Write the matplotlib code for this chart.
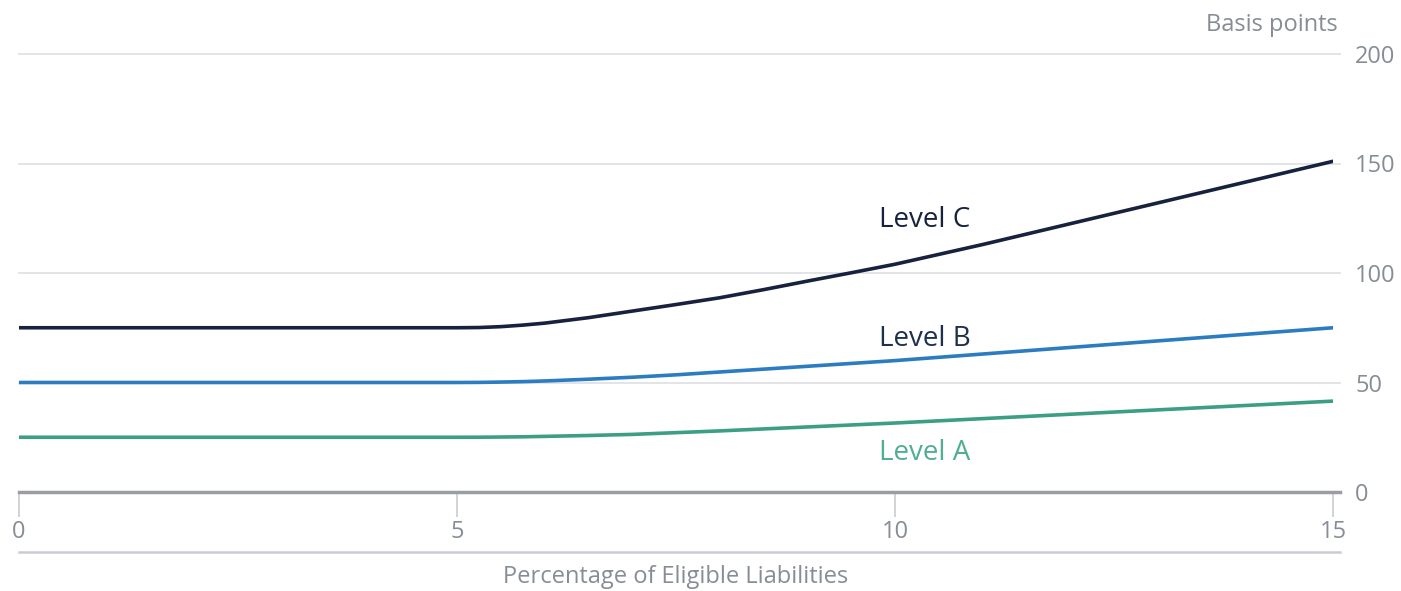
import matplotlib
matplotlib.use("Agg")
import matplotlib.pyplot as plt

plt.rcParams['font.family'] = ['Open Sans', 'DejaVu Sans']

# valores (pontos-base vs % de passivos elegiveis)
x_vals = [0, 5, 5.25, 5.5, 5.75, 6, 6.5, 7, 7.5, 8, 8.5, 9, 9.5, 10, 11, 12, 13, 14, 15]
level_c = [75, 75, 75.1, 75.5, 76.2, 77.1, 79.6, 82.6, 85.6, 88.7, 92.4, 96.3, 100.1, 104, 113, 122.5, 132, 141.5, 151]
level_b = [50, 50, 50.05, 50.2, 50.4, 50.7, 51.5, 52.4, 53.5, 54.8, 56.1, 57.4, 58.7, 60, 63, 66, 69, 72, 75]
level_a = [25, 25, 25.02, 25.1, 25.2, 25.4, 25.8, 26.3, 27.1, 27.9, 28.8, 29.7, 30.6, 31.5, 33.5, 35.5, 37.5, 39.5, 41.5]

x_ticks = [0, 5, 10, 15]
y_ticks = [0, 50, 100, 150, 200]

grey_txt = "#868d96"
col_c = "#17223f"
col_b = "#2b7cc0"
col_a = "#3d9e86"

fig = plt.figure(figsize=(14.01, 5.91), dpi=100)
ax = fig.add_axes([19/1401, 1-492/591, (1333-19)/1401, (492-54)/591])

for y in y_ticks[1:]:
	ax.axhline(y, xmin=0, xmax=1.005, color="#dfe2e5", linewidth=1.3, clip_on=False, zorder=1)
ax.axhline(0, xmin=0, xmax=1.005, color="#9a9da1", linewidth=2.5, clip_on=False, zorder=2)

ax.plot(x_vals, level_c, color=col_c, linewidth=2.6, zorder=3)
ax.plot(x_vals, level_b, color=col_b, linewidth=2.6, zorder=3)
ax.plot(x_vals, level_a, color=col_a, linewidth=2.6, zorder=3)

ax.text(9.82, 124, "Level C", color=col_c, fontsize=20, va="center", ha="left")
ax.text(9.82, 70, "Level B", color="#1e3050", fontsize=20, va="center", ha="left")
ax.text(9.82, 18, "Level A", color="#4fae94", fontsize=20, va="center", ha="left")

ax.set_xlim(0, 15)
ax.set_ylim(0, 200)
for s in ax.spines.values():
	s.set_visible(False)

ax.set_xticks(x_ticks)
ax.set_xticklabels([str(t) for t in x_ticks])
ax.tick_params(axis="x", length=18, width=1.2, color="#c9ccd0", labelcolor=grey_txt, labelsize=17, pad=2)
ax.yaxis.tick_right()
ax.set_yticks(y_ticks)
ax.set_yticklabels([str(t) for t in y_ticks])
ax.tick_params(axis="y", length=0, labelcolor=grey_txt, labelsize=17, pad=16)

# linha inferior sob os rotulos do eixo x
ax.plot([0, 1.005], [-0.137, -0.137], transform=ax.transAxes, color="#c9ccd0", linewidth=1.8, clip_on=False)

fig.text(676/1401, 1-577/591, "Percentage of Eligible Liabilities", color=grey_txt, fontsize=17, ha="center", va="center")
fig.text(1338/1401, 1-25/591, "Basis points", color=grey_txt, fontsize=17, ha="right", va="center")

fig.savefig("out.png", dpi=100)
